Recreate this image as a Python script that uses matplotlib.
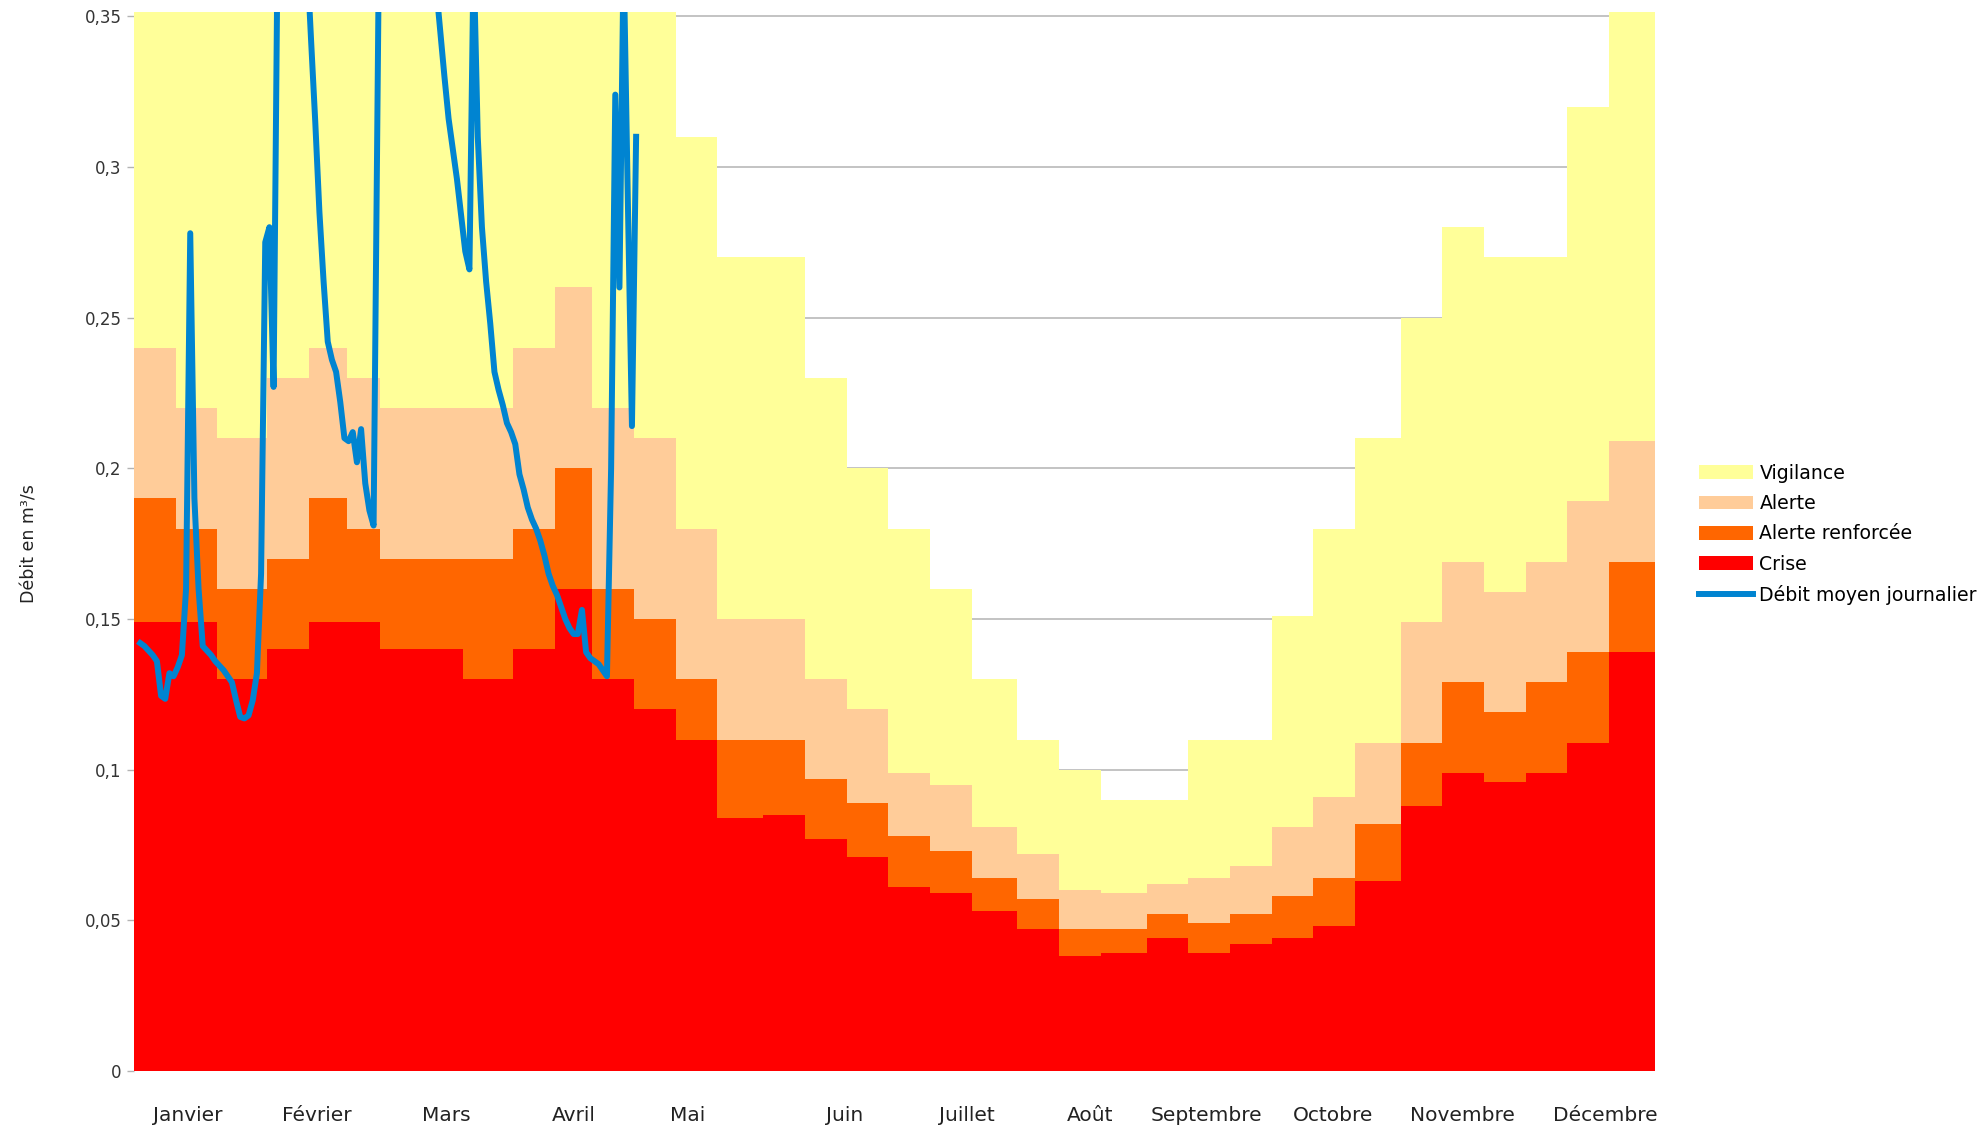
import numpy as np
import matplotlib.pyplot as plt

plt.rcParams['font.family'] = ['DejaVu Sans']

# debut de chaque decade (jour de l'annee, 0 = 1er janvier) + fin d'annee
bornes = [0, 10, 20, 32, 42, 51, 59, 69, 79, 91, 101, 110, 120, 130, 140, 151,
          161, 171, 181, 191, 201, 212, 222, 232, 243, 253, 263, 273, 283, 293,
          304, 314, 324, 334, 344, 354, 365]

# seuils par decade (m3/s)
vigilance = [0.36, 0.36, 0.36, 0.36, 0.36, 0.36, 0.36, 0.36, 0.36, 0.36, 0.36, 0.36,
             0.36, 0.31, 0.27, 0.27, 0.23, 0.20, 0.18, 0.16, 0.13, 0.11, 0.10, 0.09,
             0.09, 0.11, 0.11, 0.151, 0.18, 0.21, 0.25, 0.28, 0.27, 0.27, 0.32, 0.36]
alerte = [0.24, 0.22, 0.21, 0.23, 0.24, 0.23, 0.22, 0.22, 0.22, 0.24, 0.26, 0.22,
          0.21, 0.18, 0.15, 0.15, 0.13, 0.12, 0.099, 0.095, 0.081, 0.072, 0.060, 0.059,
          0.062, 0.064, 0.068, 0.081, 0.091, 0.109, 0.149, 0.169, 0.159, 0.169, 0.189, 0.209]
alerte_renforcee = [0.19, 0.18, 0.16, 0.17, 0.19, 0.18, 0.17, 0.17, 0.17, 0.18, 0.20, 0.16,
                    0.15, 0.13, 0.11, 0.11, 0.097, 0.089, 0.078, 0.073, 0.064, 0.057, 0.047, 0.047,
                    0.052, 0.049, 0.052, 0.058, 0.064, 0.082, 0.109, 0.129, 0.119, 0.129, 0.139, 0.169]
crise = [0.149, 0.149, 0.13, 0.14, 0.149, 0.149, 0.14, 0.14, 0.13, 0.14, 0.16, 0.13,
         0.12, 0.11, 0.084, 0.085, 0.077, 0.071, 0.061, 0.059, 0.053, 0.047, 0.038, 0.039,
         0.044, 0.039, 0.042, 0.044, 0.048, 0.063, 0.088, 0.099, 0.096, 0.099, 0.109, 0.139]

# debit moyen journalier, un point par jour a partir du 2 janvier
jour_debut = 1.5
debit = [0.142, 0.141, 0.1395, 0.138, 0.136, 0.1245, 0.1235, 0.132, 0.131, 0.134,
         0.138, 0.160, 0.278, 0.190, 0.160, 0.141, 0.1395, 0.138, 0.136, 0.1345,
         0.133, 0.131, 0.129, 0.123, 0.1175, 0.117, 0.118, 0.123, 0.132, 0.165,
         0.275, 0.280, 0.227, 0.38, 0.46, 0.52, 0.48, 0.44, 0.41, 0.39,
         0.37, 0.342, 0.315, 0.285, 0.262, 0.242, 0.236, 0.232, 0.222, 0.210,
         0.209, 0.212, 0.202, 0.213, 0.195, 0.186, 0.181, 0.33, 0.48, 0.62,
         0.58, 0.54, 0.50, 0.47, 0.45, 0.43, 0.41, 0.40, 0.39, 0.38,
         0.37, 0.36, 0.345, 0.33, 0.316, 0.306, 0.296, 0.284, 0.272, 0.266,
         0.37, 0.31, 0.28, 0.262, 0.248, 0.232, 0.226, 0.221, 0.215, 0.212,
         0.208, 0.198, 0.193, 0.187, 0.183, 0.180, 0.176, 0.171, 0.165, 0.161,
         0.158, 0.154, 0.150, 0.147, 0.145, 0.145, 0.153, 0.139, 0.137, 0.136,
         0.135, 0.133, 0.131, 0.20, 0.324, 0.26, 0.37, 0.29, 0.214, 0.31]

mois = ['Janvier', 'Février', 'Mars', 'Avril', 'Mai', 'Juin', 'Juillet', 'Août',
        'Septembre', 'Octobre', 'Novembre', 'Décembre']
pos_mois = [12.8, 43.9, 74.9, 105.5, 132.9, 170.6, 199.9, 229.4, 257.3, 287.7, 318.8, 353.0]

y_ticks = [0, 0.05, 0.1, 0.15, 0.2, 0.25, 0.3, 0.35]
y_labels = ['0', '0,05', '0,1', '0,15', '0,2', '0,25', '0,3', '0,35']

fig = plt.figure(figsize=(19.82, 11.25), dpi=100)
ax = fig.add_axes([0.0676, 0.048, 0.7674, 0.9413])

x = np.array(bornes)


def marches(v):
    return np.append(v, v[-1])


ax.fill_between(x, marches(vigilance), step='post', color='#ffff99', lw=0, label='Vigilance')
ax.fill_between(x, marches(alerte), step='post', color='#ffcc99', lw=0, label='Alerte')
ax.fill_between(x, marches(alerte_renforcee), step='post', color='#ff6600', lw=0,
                label='Alerte renforcée')
ax.fill_between(x, marches(crise), step='post', color='#ff0000', lw=0, label='Crise')

jours = jour_debut + np.arange(len(debit))
ax.plot(jours, debit, color='#0084d1', lw=4.3, label='Débit moyen journalier',
        solid_joinstyle='round')

ax.set_xlim(0, 365)
ax.set_ylim(0, 0.3514)
ax.set_yticks(y_ticks)
ax.set_yticklabels(y_labels, fontsize=12, color='#333333')
ax.set_xticks(pos_mois)
ax.set_xticklabels(mois, fontsize=14.5, color='#222222')
ax.tick_params(axis='x', length=0, pad=25)
ax.tick_params(axis='y', length=5, width=1, color='#b3b3b3', pad=4)
ax.grid(axis='y', color='#b3b3b3', lw=1.1)
ax.set_axisbelow(True)
for s in ax.spines.values():
    s.set_visible(False)

fig.text(0.0148, 0.517, 'Débit en m³/s', rotation=90, fontsize=12.5,
         va='center', ha='center', color='#222222')

fig.legend(loc='center left', bbox_to_anchor=(0.857, 0.525), frameon=False,
           fontsize=13.6, handlelength=2.9, handleheight=0.72, handletextpad=0.32,
           labelspacing=0.6, borderpad=0, borderaxespad=0)

fig.savefig('out.png', dpi=100)
